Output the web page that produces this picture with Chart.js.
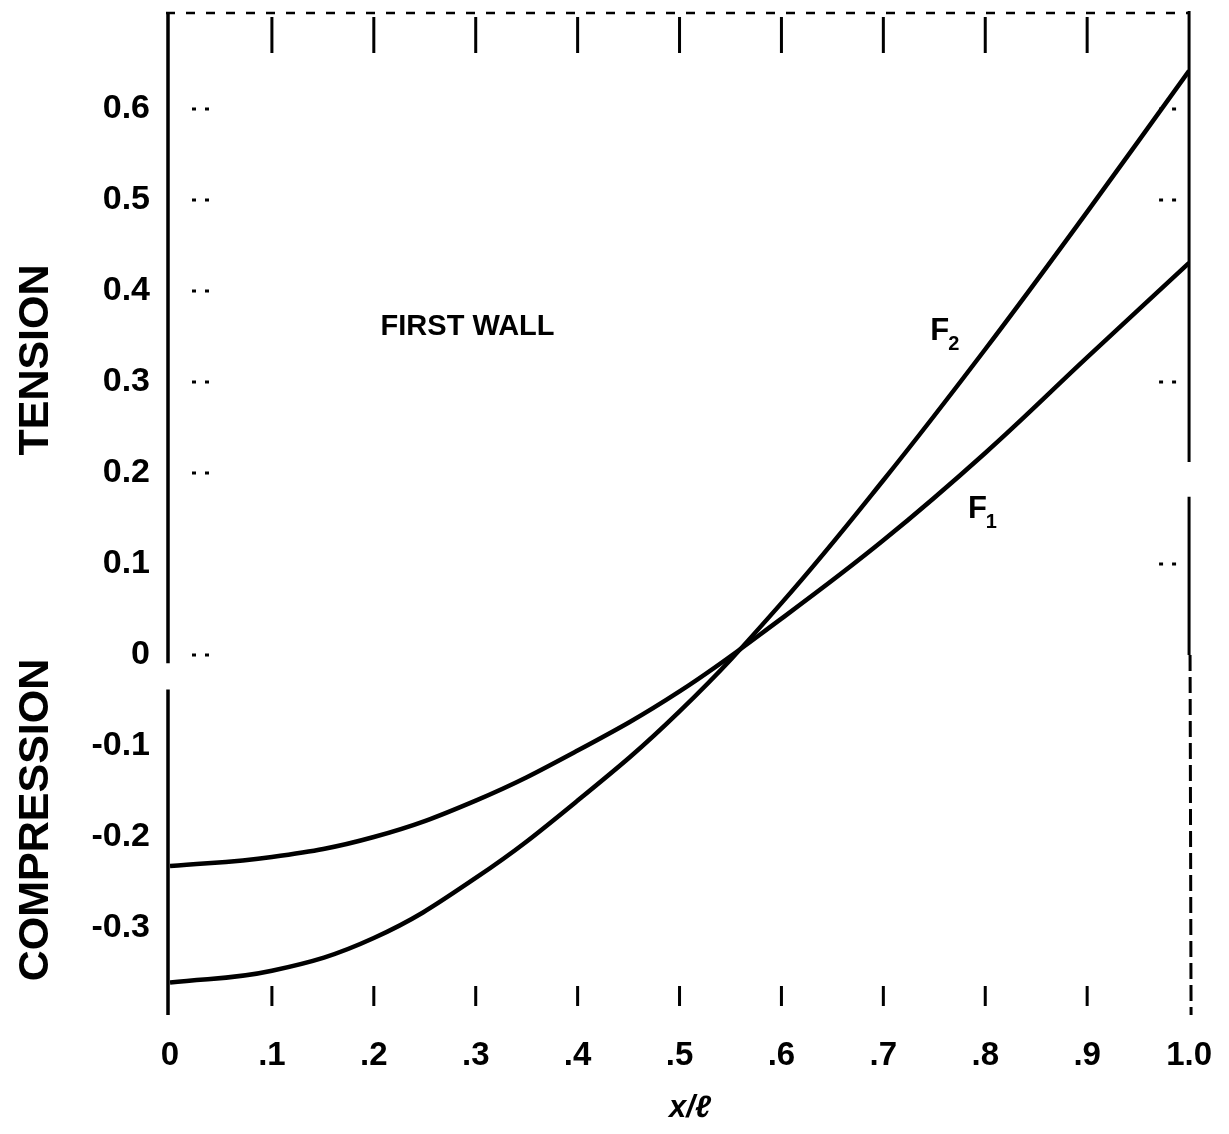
<!DOCTYPE html>
<html>
<head>
<meta charset="utf-8">
<script src="https://cdn.jsdelivr.net/npm/chart.js@4.4.1/dist/chart.umd.min.js"></script>
<style>
  html, body { margin: 0; padding: 0; background: #ffffff; }
  #wrap { width: 1229px; height: 1134px; position: relative; }
</style>
</head>
<body>
<div id="wrap"><canvas id="c" width="1229" height="1134"></canvas></div>
<script>
// ---- data ----
const xValues = [0, 0.1, 0.2, 0.3, 0.4, 0.5, 0.6, 0.7, 0.8, 0.9, 1.0];
const f1Values = [-0.232, -0.222, -0.200, -0.160, -0.105, -0.040, 0.040, 0.126, 0.222, 0.327, 0.431];
const f2Values = [-0.360, -0.347, -0.311, -0.245, -0.160, -0.062, 0.057, 0.192, 0.336, 0.487, 0.642];

const xTickValues = [0, 0.1, 0.2, 0.3, 0.4, 0.5, 0.6, 0.7, 0.8, 0.9, 1.0];
const xTickLabels = ['0', '.1', '.2', '.3', '.4', '.5', '.6', '.7', '.8', '.9', '1.0'];
const yTickValues = [-0.3, -0.2, -0.1, 0, 0.1, 0.2, 0.3, 0.4, 0.5, 0.6];
const yTickLabels = ['-0.3', '-0.2', '-0.1', '0', '0.1', '0.2', '0.3', '0.4', '0.5', '0.6'];
const leftMarkValues = [0, 0.2, 0.3, 0.4, 0.5, 0.6];
const rightMarkValues = [0.1, 0.3, 0.5, 0.6];
const seriesNames = ['F1', 'F2'];

const FONT = '"Liberation Sans", Arial, Helvetica, sans-serif';

function pts(ys) { return xValues.map((x, i) => ({ x: x, y: ys[i] })); }

const decor = {
  id: 'decor',
  afterDraw(chart) {
    const ctx = chart.ctx;
    const xs = chart.scales.x, ys = chart.scales.y;
    const a = chart.chartArea;
    const L = a.left, R = a.right, T = a.top - 5, B = a.bottom - 4;
    ctx.save();
    ctx.strokeStyle = '#000';
    ctx.lineCap = 'butt';

    // left border with a break near zero
    ctx.lineWidth = 3.5;
    ctx.beginPath();
    ctx.moveTo(L - 2, T); ctx.lineTo(L - 2, ys.getPixelForValue(-0.009));
    ctx.moveTo(L - 2, ys.getPixelForValue(-0.038)); ctx.lineTo(L - 2, B);
    ctx.stroke();

    // right border: solid, small break, then dashed in the lower part
    ctx.lineWidth = 3;
    ctx.beginPath();
    ctx.moveTo(R, T - 2); ctx.lineTo(R, ys.getPixelForValue(0.212));
    ctx.moveTo(R, ys.getPixelForValue(0.174)); ctx.lineTo(R, ys.getPixelForValue(0.0));
    ctx.stroke();
    ctx.setLineDash([16, 6]);
    ctx.beginPath();
    ctx.moveTo(R + 1, ys.getPixelForValue(0.0)); ctx.lineTo(R + 2, B);
    ctx.stroke();

    // top border (faint, broken in the scan)
    ctx.lineWidth = 2.5;
    ctx.setLineDash([9, 11]);
    ctx.beginPath();
    ctx.moveTo(L - 4, T); ctx.lineTo(R, T);
    ctx.stroke();
    ctx.setLineDash([]);

    // top and bottom x ticks (inside)
    ctx.lineWidth = 3;
    ctx.beginPath();
    for (let i = 1; i < xTickValues.length - 1; i++) {
      const px = xs.getPixelForValue(xTickValues[i]);
      ctx.moveTo(px, T + 4); ctx.lineTo(px, T + 40);
      ctx.moveTo(px, B - 29); ctx.lineTo(px, B - 9);
    }
    ctx.stroke();

    // y ticks (inside, dotted)
    ctx.lineWidth = 3;
    ctx.setLineDash([4, 9]);
    ctx.beginPath();
    leftMarkValues.forEach(v => {
      const py = ys.getPixelForValue(v);
      ctx.moveTo(L + 22, py); ctx.lineTo(L + 44, py);
    });
    rightMarkValues.forEach(v => {
      const py = ys.getPixelForValue(v);
      ctx.moveTo(R - 30, py); ctx.lineTo(R - 4, py);
    });
    ctx.stroke();
    ctx.setLineDash([]);

    // annotations
    ctx.fillStyle = '#000';
    ctx.textBaseline = 'middle';
    ctx.textAlign = 'center';
    ctx.font = 'bold 29px ' + FONT;
    ctx.fillText('FIRST WALL', xs.getPixelForValue(0.292), ys.getPixelForValue(0.36));

    function sublabel(base, sub, xv, yv) {
      const px = xs.getPixelForValue(xv), py = ys.getPixelForValue(yv);
      ctx.textAlign = 'left';
      ctx.font = 'bold 31px ' + FONT;
      ctx.fillText(base, px, py);
      const w = ctx.measureText(base).width;
      ctx.font = 'bold 20px ' + FONT;
      ctx.fillText(sub, px + w - 1, py + 13);
    }
    sublabel('F', '2', 0.746, 0.355);
    sublabel('F', '1', 0.783, 0.160);

    // vertical axis titles
    ctx.textAlign = 'center';
    ctx.font = 'bold 43px ' + FONT;
    ctx.save();
    ctx.translate(36, 360); ctx.rotate(-Math.PI / 2);
    ctx.fillText('TENSION', 0, 0);
    ctx.restore();
    ctx.save();
    ctx.translate(36, 820); ctx.rotate(-Math.PI / 2);
    ctx.fillText('COMPRESSION', 0, 0);
    ctx.restore();

    // x title
    ctx.font = 'italic bold 31px ' + FONT;
    ctx.fillText('x/\u2113', 690, 1108);
    ctx.restore();
  }
};

new Chart(document.getElementById('c'), {
  type: 'line',
  data: {
    datasets: [
      { label: seriesNames[0], data: pts(f1Values), borderColor: '#000', borderWidth: 4.5,
        pointRadius: 0, tension: 0.4, fill: false },
      { label: seriesNames[1], data: pts(f2Values), borderColor: '#000', borderWidth: 4.5,
        pointRadius: 0, tension: 0.4, fill: false }
    ]
  },
  options: {
    responsive: false,
    animation: false,
    events: [],
    layout: { padding: { left: 0, right: 38, top: 18, bottom: 0 } },
    plugins: { legend: { display: false }, tooltip: { enabled: false }, title: { display: false } },
    scales: {
      x: {
        type: 'linear', min: 0, max: 1,
        afterBuildTicks: s => { s.ticks = xTickValues.map(v => ({ value: v })); },
        afterFit: s => { s.height = 115; },
        grid: { display: false, drawTicks: false },
        border: { display: false },
        ticks: {
          autoSkip: false, maxRotation: 0, minRotation: 0, padding: 17, color: '#000',
          font: { family: FONT, size: 33, weight: 'bold' },
          callback: (v) => { const i = xTickValues.findIndex(t => Math.abs(t - v) < 1e-6); return i >= 0 ? xTickLabels[i] : ''; }
        }
      },
      y: {
        type: 'linear', min: -0.4, max: 0.7,
        afterBuildTicks: s => { s.ticks = yTickValues.map(v => ({ value: v })); },
        afterFit: s => { s.width = 170; s.paddingTop = 0; s.paddingBottom = 0; },
        grid: { display: false, drawTicks: false },
        border: { display: false },
        ticks: {
          padding: 20, color: '#000',
          font: { family: FONT, size: 34, weight: 'bold' },
          callback: (v) => { const i = yTickValues.findIndex(t => Math.abs(t - v) < 1e-6); return i >= 0 ? yTickLabels[i] : ''; }
        }
      }
    }
  },
  plugins: [decor]
});
</script>
</body>
</html>
